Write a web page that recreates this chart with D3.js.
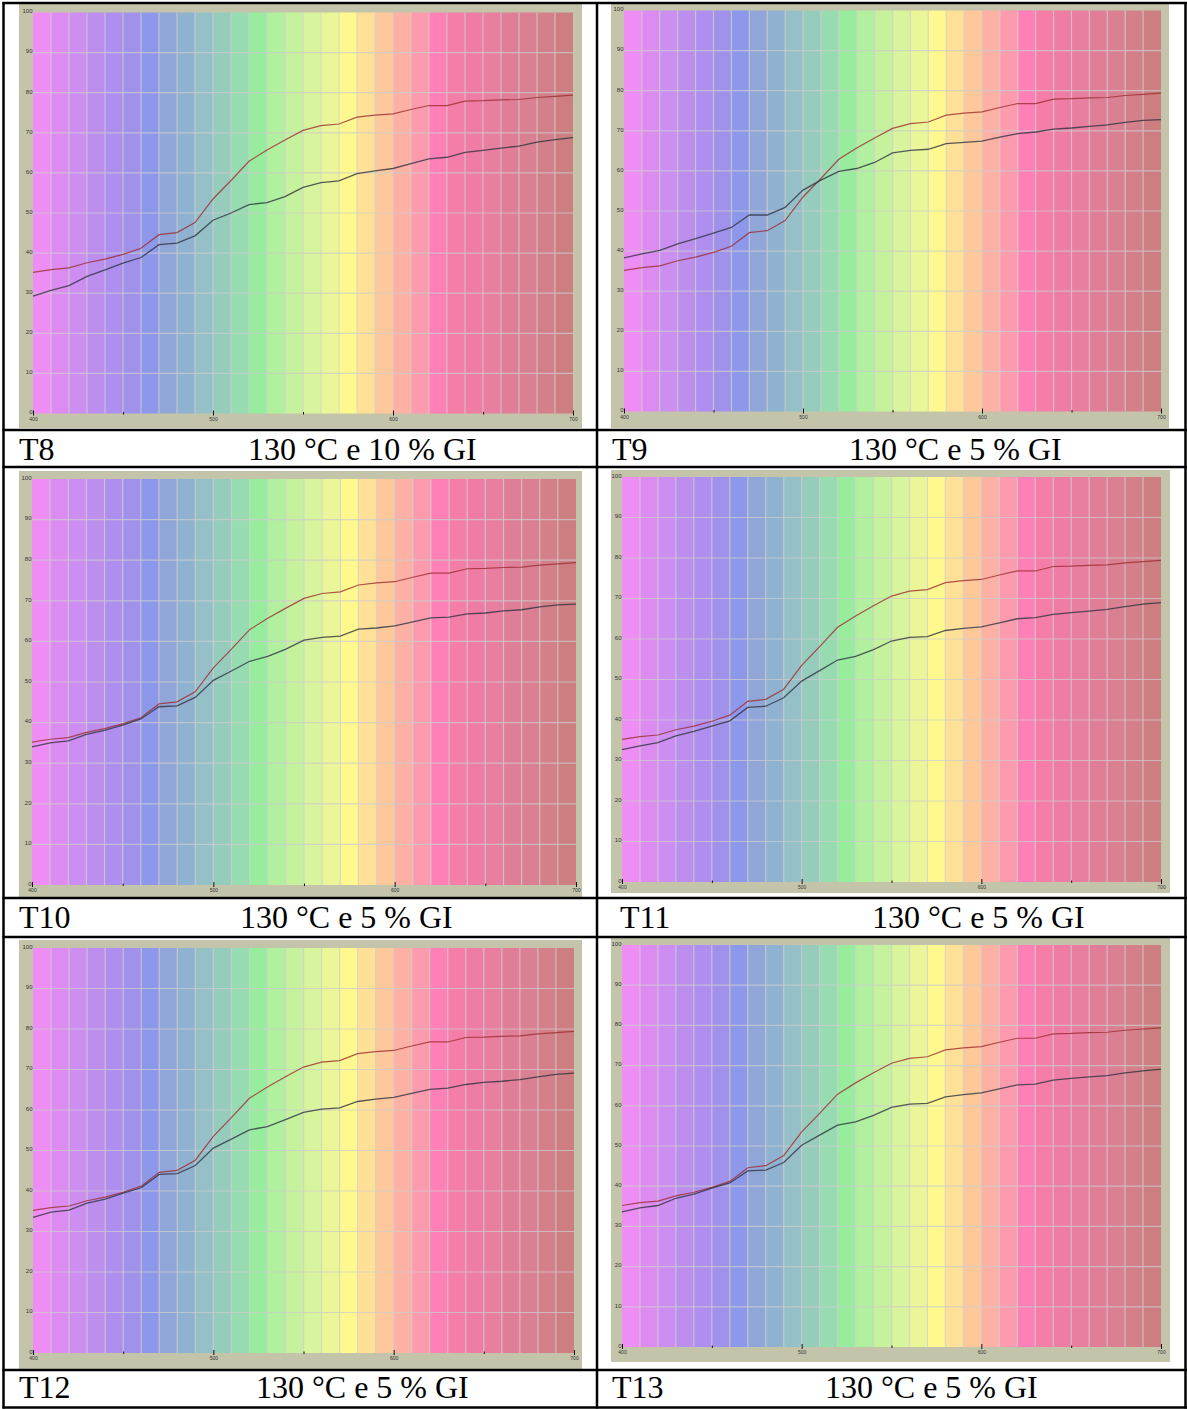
<!DOCTYPE html>
<html><head><meta charset="utf-8">
<script src="https://cdn.jsdelivr.net/npm/d3@7"></script>
<style>body{margin:0;background:#fff}svg{display:block}</style>
</head><body>
<svg id="c" width="1187" height="1409"></svg>
<script>
// ---------- DATA ----------
const wavelengths = [400,410,420,430,440,450,460,470,480,490,500,510,520,530,540,550,560,570,580,590,600,610,620,630,640,650,660,670,680,690,700];
const bandColors = ["#ee8ef4","#dc8cf0","#cc8ef0","#bc8eee","#ae8eee","#a092ea","#8e98ea","#90a6d8","#8fb2d0","#96c0c8",
                    "#96ccbc","#96dcb0","#98ec9e","#b0f09e","#c6f29e","#d8f49c","#eaf698","#fff88e","#fee096","#fec89a",
                    "#fdb0a4","#fc9aae","#ff80b6","#f47ea8","#ee7ca4","#e87ea0","#e07e98","#da8092","#d4808a","#cc7e80"];
const yTicks = [0,10,20,30,40,50,60,70,80,90,100];
const xMajorTicks = [400,500,600,700];
const xMinorTicks = [450,550,650];
// red curve (same in every panel)
const referenceCurve = [35.2,35.9,36.3,37.6,38.5,39.7,41.2,44.6,45.1,47.6,53.5,58.1,62.9,65.7,68.2,70.6,71.8,72.2,73.9,74.4,74.7,75.8,76.8,76.8,77.9,78.0,78.2,78.3,78.8,79.1,79.4];
// dark curves
const sampleT8  = [29.3,30.7,31.9,34.2,35.8,37.5,38.9,42.1,42.5,44.3,48.2,50.0,52.1,52.6,54.1,56.4,57.6,58.0,59.8,60.5,61.1,62.3,63.5,63.9,65.1,65.6,66.2,66.7,67.7,68.3,68.8];
const sampleT9  = [38.3,39.3,40.2,41.8,43.1,44.5,45.9,49.0,49.0,50.9,55.2,57.7,59.9,60.6,62.1,64.5,65.1,65.4,66.8,67.1,67.4,68.4,69.3,69.7,70.4,70.7,71.1,71.5,72.1,72.6,72.8];
const sampleT10 = [34.0,35.0,35.5,37.1,38.1,39.4,40.9,43.9,44.1,46.2,50.4,52.7,55.1,56.3,58.1,60.3,61.0,61.3,63.0,63.3,63.8,64.8,65.8,66.0,66.8,67.0,67.5,67.8,68.5,69.0,69.2];
const sampleT11 = [32.7,33.6,34.4,36.1,37.2,38.5,39.8,43.1,43.4,45.5,49.6,52.2,54.8,55.7,57.4,59.5,60.4,60.6,62.1,62.6,63.0,64.0,65.0,65.3,66.1,66.5,66.9,67.3,68.0,68.6,69.0];
const sampleT12 = [33.5,34.8,35.3,37.0,38.0,39.5,40.8,44.1,44.3,46.3,50.6,52.8,55.1,55.9,57.6,59.4,60.2,60.5,62.1,62.7,63.1,64.1,65.1,65.4,66.3,66.8,67.1,67.5,68.2,68.8,69.1];
const sampleT13 = [33.6,34.6,35.2,37.0,38.0,39.5,40.8,43.8,44.0,45.9,50.2,52.7,55.2,56.0,57.6,59.6,60.4,60.6,62.2,62.8,63.2,64.2,65.2,65.4,66.4,66.8,67.2,67.5,68.2,68.7,69.1];
const sampleIds = ["T8","T9","T10","T11","T12","T13"];
const conditions = ["130 °C e 10 % GI","130 °C e 5 % GI","130 °C e 5 % GI","130 °C e 5 % GI","130 °C e 5 % GI","130 °C e 5 % GI"];
const samples = [sampleT8,sampleT9,sampleT10,sampleT11,sampleT12,sampleT13];

// ---------- LAYOUT ----------
const layout = [
  {fx:19, fy:4,   fw:563, fh:424, x0:33,  x1:573,  y0:413.5, y1:12.5, capY:459.5, idX:19,  txtX:248},
  {fx:611,fy:4,   fw:558, fh:424, x0:624, x1:1161, y0:411.5, y1:10.5, capY:459.5, idX:612, txtX:849},
  {fx:19, fy:471, fw:563, fh:426, x0:32,  x1:576,  y0:885,   y1:479,  capY:928,   idX:19,  txtX:240},
  {fx:611,fy:470, fw:559, fh:423, x0:622, x1:1161, y0:882,   y1:477,  capY:928,   idX:620, txtX:872},
  {fx:19, fy:940, fw:563, fh:429, x0:33,  x1:574,  y0:1353,  y1:948,  capY:1398,  idX:19,  txtX:256},
  {fx:611,fy:938, fw:559, fh:424, x0:622, x1:1161, y0:1347,  y1:945,  capY:1398,  idX:612, txtX:825}
];

const svg = d3.select("#c");
svg.append("rect").attr("width",1187).attr("height",1409).attr("fill","#fff");

layout.forEach((L,pi)=>{
  const g = svg.append("g");
  const xs = d3.scaleLinear().domain([400,700]).range([L.x0,L.x1]);
  const ys = d3.scaleLinear().domain([0,100]).range([L.y0,L.y1]);
  g.append("rect").attr("x",L.fx).attr("y",L.fy).attr("width",L.fw).attr("height",L.fh).attr("fill","#c4c4aa");
  // colour bands
  g.selectAll("rect.band").data(bandColors).join("rect").attr("class","band")
    .attr("x",(d,i)=>xs(wavelengths[i]))
    .attr("width",(d,i)=>xs(wavelengths[i+1])-xs(wavelengths[i]))
    .attr("y",ys(100)).attr("height",ys(0)-ys(100))
    .attr("fill",d=>d);
  // grid
  g.selectAll("line.vg").data(wavelengths.slice(1,-1)).join("line").attr("class","vg")
    .attr("x1",d=>xs(d)).attr("x2",d=>xs(d)).attr("y1",ys(100)).attr("y2",ys(0))
    .attr("stroke","#d2d2d2").attr("stroke-opacity",0.7).attr("stroke-width",1.2);
  g.selectAll("line.hg").data(yTicks.slice(1,-1)).join("line").attr("class","hg")
    .attr("x1",xs(400)).attr("x2",xs(700)).attr("y1",d=>ys(d)).attr("y2",d=>ys(d))
    .attr("stroke","#cccccc").attr("stroke-opacity",0.75).attr("stroke-width",1.2);
  // y axis labels
  const ya = g.append("g").attr("transform",`translate(${L.x0},0)`)
    .call(d3.axisLeft(ys).tickValues(yTicks).tickSize(0).tickPadding(0.5));
  ya.select(".domain").remove();
  ya.selectAll("text").attr("font-family","Liberation Sans, Arial, sans-serif").attr("font-size",6).attr("fill","#333").attr("dy","0.05em");
  // x axis
  const xa = g.append("g").attr("transform",`translate(0,${L.y0})`)
    .call(d3.axisBottom(xs).tickValues(xMajorTicks).tickSize(2).tickPadding(1.5));
  xa.select(".domain").remove();
  xa.selectAll(".tick line").attr("y1",-3).attr("stroke","#111");
  xa.selectAll("text").attr("font-family","Liberation Sans, Arial, sans-serif").attr("font-size",5).attr("fill","#333");
  const xm = g.append("g").attr("transform",`translate(0,${L.y0})`)
    .call(d3.axisBottom(xs).tickValues(xMinorTicks).tickSize(1).tickFormat(""));
  xm.select(".domain").remove();
  xm.selectAll(".tick line").attr("y1",-1.5).attr("stroke","#111");
  // curves
  const line = d3.line().x((d,i)=>xs(wavelengths[i])).y(d=>ys(d));
  g.append("path").datum(referenceCurve).attr("d",line).attr("fill","none")
    .attr("stroke","#9c2c30").attr("stroke-opacity",0.8).attr("stroke-width",1.2);
  g.append("path").datum(samples[pi]).attr("d",line).attr("fill","none")
    .attr("stroke","#2e3240").attr("stroke-opacity",0.8).attr("stroke-width",1.3);
  // captions
  svg.append("text").attr("x",L.idX).attr("y",L.capY).text(sampleIds[pi])
    .attr("font-family","Liberation Serif, Times New Roman, serif").attr("font-size",32).attr("fill","#000");
  svg.append("text").attr("x",L.txtX).attr("y",L.capY).text(conditions[pi])
    .attr("font-family","Liberation Serif, Times New Roman, serif").attr("font-size",32).attr("fill","#000");
});

// table borders
const hLines = [3,430,467,898,937,1370,1407.5];
const vLines = [3.5,597,1185.5];
svg.selectAll("line.hb").data(hLines).join("line").attr("class","hb")
  .attr("x1",2.5).attr("x2",1187).attr("y1",d=>d).attr("y2",d=>d).attr("stroke","#000").attr("stroke-width",2.5);
svg.selectAll("line.vb").data(vLines).join("line").attr("class","vb")
  .attr("x1",d=>d).attr("x2",d=>d).attr("y1",2).attr("y2",1408.5).attr("stroke","#000").attr("stroke-width",2.5);
</script>
</body></html>
